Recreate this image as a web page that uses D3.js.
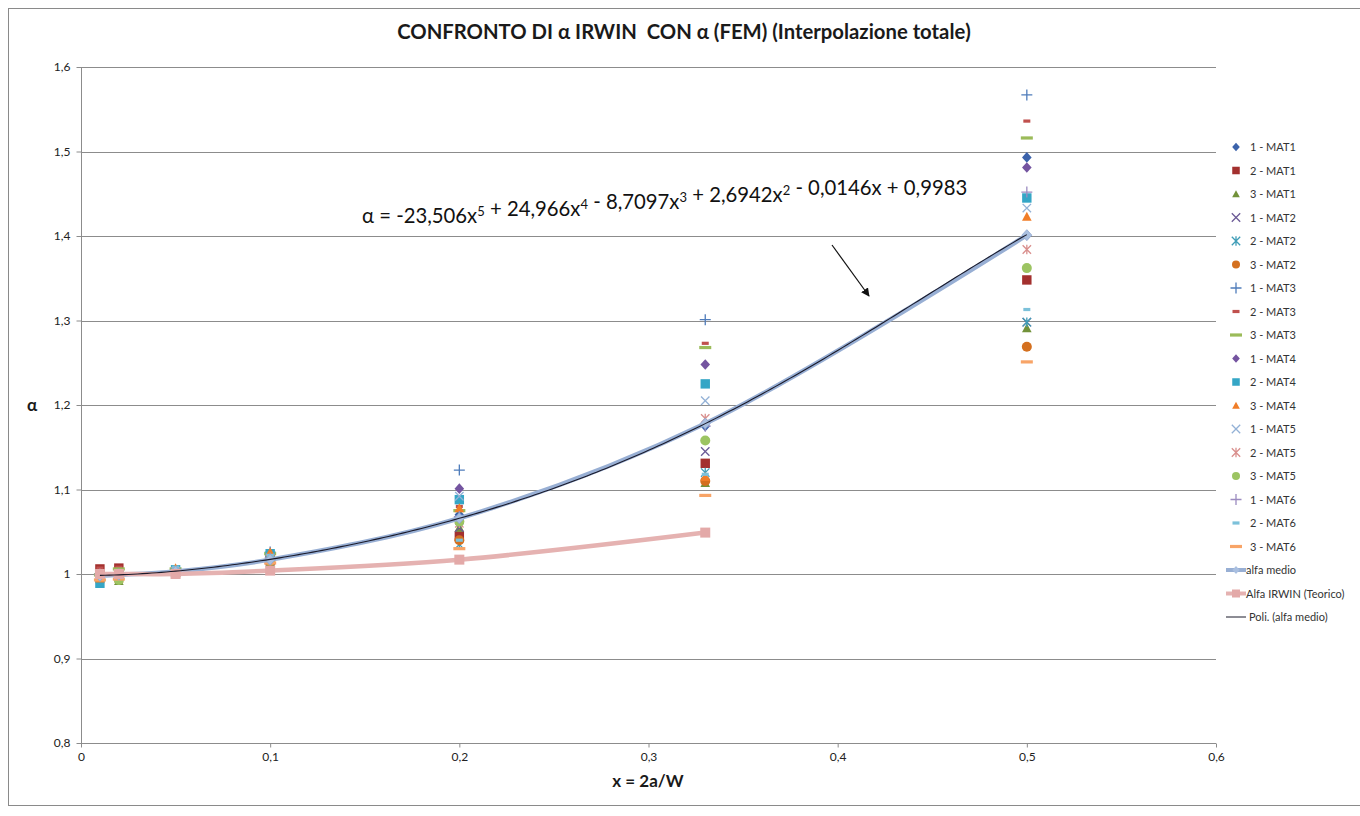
<!DOCTYPE html>
<html>
<head>
<meta charset="utf-8">
<script src="https://cdn.jsdelivr.net/npm/d3@7"></script>
<style>
  html, body { margin: 0; padding: 0; background: #fff; }
  svg { display: block; font-family: Lato, "Open Sans", sans-serif; }
  text { white-space: pre; }
</style>
</head>
<body>
<svg id="chart" width="1360" height="816"></svg>
<script>
// x positions (x = 2a/W)
const xValues = [0.01, 0.02, 0.05, 0.1, 0.2, 0.33, 0.5];

// FEM alpha values per specimen / material
const mat1_1 = [1.000, 1.001, 1.003, 1.020, 1.070, 1.175, 1.493];
const mat1_2 = [1.006, 1.007, 1.002, 1.016, 1.045, 1.131, 1.348];
const mat1_3 = [0.996, 0.992, 1.001, 1.014, 1.055, 1.108, 1.291];
const mat2_1 = [0.998, 0.999, 1.002, 1.017, 1.055, 1.145, 1.298];
const mat2_2 = [0.994, 0.996, 1.003, 1.018, 1.035, 1.120, 1.298];
const mat2_3 = [0.997, 0.997, 1.001, 1.015, 1.040, 1.110, 1.269];
const mat3_1 = [1.000, 1.001, 1.004, 1.026, 1.123, 1.301, 1.567];
const mat3_2 = [1.007, 1.008, 1.002, 1.020, 1.080, 1.273, 1.536];
const mat3_3 = [0.999, 1.006, 1.006, 1.024, 1.075, 1.268, 1.516];
const mat4_1 = [0.999, 1.000, 1.003, 1.021, 1.101, 1.248, 1.481];
const mat4_2 = [0.989, 0.998, 1.005, 1.024, 1.088, 1.225, 1.445];
const mat4_3 = [0.995, 0.995, 1.007, 1.026, 1.078, 1.115, 1.423];
const mat5_1 = [0.999, 1.000, 1.003, 1.019, 1.092, 1.205, 1.433];
const mat5_2 = [0.998, 0.999, 1.003, 1.018, 1.060, 1.184, 1.384];
const mat5_3 = [0.997, 0.993, 1.002, 1.016, 1.062, 1.158, 1.362];
const mat6_1 = [1.000, 1.000, 1.003, 1.019, 1.068, 1.175, 1.452];
const mat6_2 = [0.996, 0.997, 1.008, 1.022, 1.040, 1.118, 1.313];
const mat6_3 = [0.993, 0.994, 1.000, 1.013, 1.030, 1.093, 1.251];

// mean alpha and Irwin theoretical alpha
const alfaMedio = [0.998, 0.999, 1.003, 1.017, 1.066, 1.178, 1.401];
const xIrwin = [0.01, 0.02, 0.05, 0.1, 0.2, 0.33];
const alfaIrwin = [1.000, 1.000, 1.000, 1.004, 1.017, 1.049];

// polynomial trendline coefficients, degree 5 down to 0
const polyCoeffs = [-23.506, 24.966, -8.7097, 2.6942, -0.0146, 0.9983];

const seriesNames = ["1 - MAT1","2 - MAT1","3 - MAT1","1 - MAT2","2 - MAT2","3 - MAT2",
  "1 - MAT3","2 - MAT3","3 - MAT3","1 - MAT4","2 - MAT4","3 - MAT4",
  "1 - MAT5","2 - MAT5","3 - MAT5","1 - MAT6","2 - MAT6","3 - MAT6"];
const seriesValues = [mat1_1, mat1_2, mat1_3, mat2_1, mat2_2, mat2_3, mat3_1, mat3_2, mat3_3,
  mat4_1, mat4_2, mat4_3, mat5_1, mat5_2, mat5_3, mat6_1, mat6_2, mat6_3];
const seriesShapes = ["diamond","square","triangle","x","star","circle",
  "plus","dash","longdash","diamond","square","triangle",
  "x","star","circle","plus","dash","longdash"];
const seriesColors = ["#3c63ab","#a3302e","#72923a","#6b5a96","#3f9db7","#d4701f",
  "#4f7cbb","#c0504d","#9bbb59","#7454a0","#35a6c6","#f07d28",
  "#93b1d6","#d98f8d","#9cc462","#9c8cc0","#7cc1da","#f8a467"];

const xTicks = [0, 0.1, 0.2, 0.3, 0.4, 0.5, 0.6];
const yTicks = [0.8, 0.9, 1.0, 1.1, 1.2, 1.3, 1.4, 1.5, 1.6];

const svg = d3.select("#chart");
const fmt = v => d3.format("")(v).replace(".", ",");

// chart frame
svg.append("rect").attr("x", 8.5).attr("y", 8.5).attr("width", 1400).attr("height", 797)
  .attr("fill", "#fff").attr("stroke", "#8a8a8a").attr("stroke-width", 1);

const plot = { left: 81, right: 1216, top: 67, bottom: 743 };
const x = d3.scaleLinear().domain([0, 0.6]).range([plot.left, plot.right]);
const y = d3.scaleLinear().domain([0.8, 1.6]).range([plot.bottom, plot.top]);

// gridlines
svg.append("g").selectAll("line").data(yTicks.slice(1)).join("line")
  .attr("x1", plot.left).attr("x2", plot.right)
  .attr("y1", d => Math.round(y(d)) + 0.5).attr("y2", d => Math.round(y(d)) + 0.5)
  .attr("stroke", "#8c8c8c").attr("stroke-width", 1);

// axes
const xAxis = d3.axisBottom(x).tickValues(xTicks).tickFormat(fmt).tickSize(4).tickPadding(5);
const yAxis = d3.axisLeft(y).tickValues(yTicks).tickFormat(fmt).tickSize(5).tickPadding(6);
const gx = svg.append("g").attr("transform", `translate(0,${plot.bottom + 0.5})`).call(xAxis);
const gy = svg.append("g").attr("transform", `translate(${plot.left + 0.5},0)`).call(yAxis);
[gx, gy].forEach(g => {
  g.select(".domain").attr("stroke", "#8c8c8c");
  g.selectAll(".tick line").attr("stroke", "#8c8c8c");
  g.selectAll(".tick text").attr("fill", "#222").attr("font-size", 12)
    .attr("font-family", "Lato, sans-serif");
});
gx.select(".domain").attr("d", `M${plot.left},0H${plot.right}`);
gy.select(".domain").attr("d", `M0,${plot.top}V${plot.bottom}`);

// marker drawing
function marker(g, shape, color, s = 1) {
  switch (shape) {
    case "diamond":
      g.append("path").attr("d", `M0,${-5.3*s}L${4.8*s},0L0,${5.3*s}L${-4.8*s},0Z`).attr("fill", color);
      break;
    case "square":
      g.append("rect").attr("x", -4.7*s).attr("y", -4.7*s).attr("width", 9.4*s).attr("height", 9.4*s).attr("fill", color);
      break;
    case "triangle":
      g.append("path").attr("d", `M0,${-4.8*s}L${4.8*s},${4.2*s}L${-4.8*s},${4.2*s}Z`).attr("fill", color);
      break;
    case "circle":
      g.append("circle").attr("r", 5*s).attr("fill", color);
      break;
    case "x":
      g.append("path").attr("d", `M-4.2,-4.2L4.2,4.2M-4.2,4.2L4.2,-4.2`).attr("stroke", color).attr("stroke-width", 1.3).attr("fill", "none");
      break;
    case "star":
      g.append("path").attr("d", `M-4.2,-4.2L4.2,4.2M-4.2,4.2L4.2,-4.2M0,-4.8V4.8`).attr("stroke", color).attr("stroke-width", 1.3).attr("fill", "none");
      break;
    case "plus":
      g.append("path").attr("d", `M-5.5,0H5.5M0,-5.5V5.5`).attr("stroke", color).attr("stroke-width", 1.3).attr("fill", "none");
      break;
    case "dash":
      g.append("rect").attr("x", -3.5).attr("y", -1.6).attr("width", 7).attr("height", 3.2).attr("fill", color);
      break;
    case "longdash":
      g.append("rect").attr("x", -6).attr("y", -1.6).attr("width", 12).attr("height", 3.2).attr("fill", color);
      break;
  }
}

// scatter series
const gScatter = svg.append("g");
seriesValues.forEach((vals, i) => {
  const gs = gScatter.append("g");
  vals.forEach((v, j) => {
    const m = gs.append("g").attr("transform", `translate(${x(xValues[j])},${y(v)})`);
    marker(m, seriesShapes[i], seriesColors[i]);
  });
});

// mean alpha line
const line = d3.line().x(d => x(d[0])).y(d => y(d[1])).curve(d3.curveCatmullRom);
const medioPts = xValues.map((v, i) => [v, alfaMedio[i]]);
svg.append("path").datum(medioPts).attr("d", line).attr("fill", "none")
  .attr("stroke", "#98afd4").attr("stroke-width", 4.5).attr("stroke-linejoin", "round");
medioPts.forEach(p => {
  const m = svg.append("g").attr("transform", `translate(${x(p[0])},${y(p[1])})`);
  m.append("path").attr("d", "M0,-5.5L5,0L0,5.5L-5,0Z").attr("fill", "#a9bfe0").attr("stroke", "#8ea6cf").attr("stroke-width", 0.8);
});

// Irwin line
const irwinPts = xIrwin.map((v, i) => [v, alfaIrwin[i]]);
svg.append("path").datum(irwinPts).attr("d", line).attr("fill", "none")
  .attr("stroke", "#e5b2b1").attr("stroke-width", 4.5).attr("stroke-linejoin", "round");
irwinPts.forEach(p => {
  svg.append("rect").attr("x", x(p[0]) - 5).attr("y", y(p[1]) - 5).attr("width", 10).attr("height", 10)
    .attr("fill", "#e3a9a8");
});

// polynomial trendline
const poly = t => polyCoeffs.reduce((acc, c) => acc * t + c, 0);
const trendX = d3.range(xValues[0], xValues[xValues.length - 1] + 1e-9, 0.0025);
svg.append("path").datum(trendX.map(t => [t, poly(t)])).attr("d", d3.line().x(d => x(d[0])).y(d => y(d[1])))
  .attr("fill", "none").attr("stroke", "#1a1a2a").attr("stroke-width", 1.1);

// title
svg.append("text").attr("x", 684).attr("y", 39).attr("text-anchor", "middle")
  .attr("font-size", 20.3).attr("font-weight", "bold").attr("fill", "#1a1a1a")
  .text("CONFRONTO DI α IRWIN  CON α (FEM) (Interpolazione totale)");

// axis titles
svg.append("text").attr("x", 648).attr("y", 787).attr("text-anchor", "middle")
  .attr("font-size", 17).attr("font-weight", "bold").attr("fill", "#1a1a1a").text("x = 2a/W");
svg.append("text").attr("x", 32).attr("y", 411).attr("text-anchor", "middle")
  .attr("font-size", 17).attr("font-weight", "bold").attr("fill", "#1a1a1a").text("α");

// equation label
const eq = svg.append("text").attr("x", 362).attr("y", 223).attr("font-size", 20.3).attr("fill", "#111");
const parts = [["α = -23,506x", "5"], [" + 24,966x", "4"], [" - 8,7097x", "3"], [" + 2,6942x", "2"], [" - 0,0146x + 0,9983", null]];
parts.forEach(([t, sup]) => {
  eq.append("tspan").text(t);
  if (sup) {
    eq.append("tspan").attr("dy", -7).attr("font-size", 13).text(sup);
    eq.append("tspan").attr("dy", 7).text("");
  }
});

// arrow to the curve
const defs = svg.append("defs");
defs.append("marker").attr("id", "arrow").attr("viewBox", "0 0 10 10").attr("refX", 9).attr("refY", 5)
  .attr("markerWidth", 7).attr("markerHeight", 7).attr("orient", "auto")
  .append("path").attr("d", "M0,0L10,5L0,10Z").attr("fill", "#111");
svg.append("line").attr("x1", 832).attr("y1", 245).attr("x2", 869).attr("y2", 296)
  .attr("stroke", "#111").attr("stroke-width", 1.2).attr("marker-end", "url(#arrow)");

// legend
const legend = svg.append("g").attr("font-size", 11).attr("fill", "#333");
const rowY = i => 147 + i * 23.5;
seriesNames.forEach((name, i) => {
  const m = legend.append("g").attr("transform", `translate(1236,${rowY(i)})`);
  marker(m, seriesShapes[i], seriesColors[i], 0.8);
  legend.append("text").attr("x", 1250).attr("y", rowY(i) + 4).text(name);
});
// line series legend entries
{
  const ym = rowY(18);
  legend.append("line").attr("x1", 1226).attr("x2", 1246).attr("y1", ym).attr("y2", ym)
    .attr("stroke", "#98afd4").attr("stroke-width", 4);
  legend.append("path").attr("transform", `translate(1236,${ym})`).attr("d", "M0,-4L3.6,0L0,4L-3.6,0Z").attr("fill", "#a9bfe0");
  legend.append("text").attr("x", 1246).attr("y", ym + 4).text("alfa medio");

  const yi = rowY(19);
  legend.append("line").attr("x1", 1226).attr("x2", 1246).attr("y1", yi).attr("y2", yi)
    .attr("stroke", "#e5b2b1").attr("stroke-width", 4);
  legend.append("rect").attr("x", 1232).attr("y", yi - 4).attr("width", 8).attr("height", 8).attr("fill", "#e3a9a8");
  legend.append("text").attr("x", 1246).attr("y", yi + 4).text("Alfa IRWIN (Teorico)");

  const yp = rowY(20);
  legend.append("line").attr("x1", 1226).attr("x2", 1246).attr("y1", yp).attr("y2", yp)
    .attr("stroke", "#1a1a2a").attr("stroke-width", 1);
  legend.append("text").attr("x", 1249).attr("y", yp + 4).text("Poli. (alfa medio)");
}
</script>
</body>
</html>
